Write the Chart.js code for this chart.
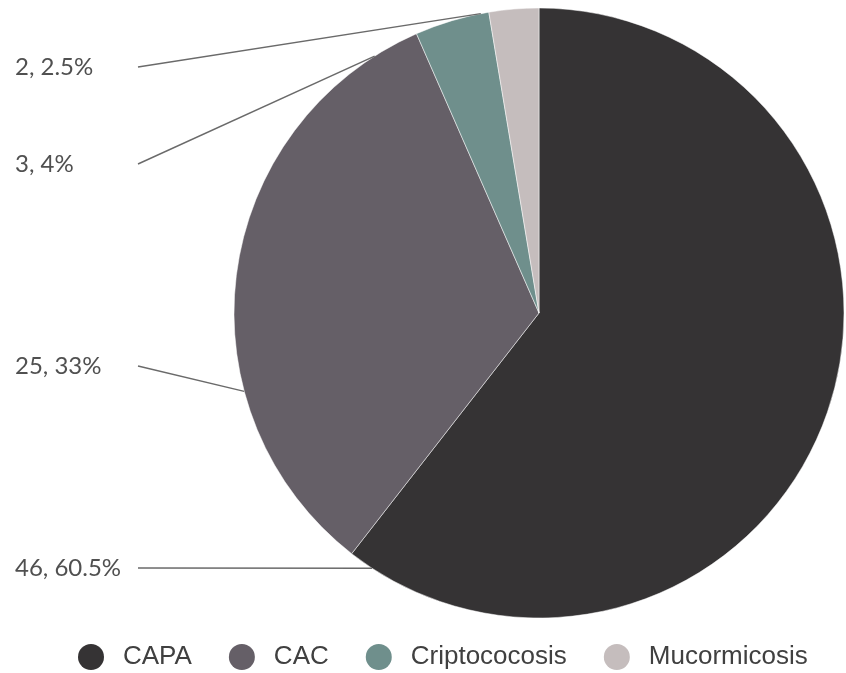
<!DOCTYPE html>
<html>
<head>
<meta charset="utf-8">
<script src="https://cdn.jsdelivr.net/npm/chart.js@4.4.1/dist/chart.umd.min.js"></script>
<style>
  html, body { margin: 0; padding: 0; background: #fff; }
  #wrap { width: 846px; height: 673px; }
</style>
</head>
<body>
<div id="wrap"><canvas id="grafica" width="846" height="673"></canvas></div>
<script>
// Datos
var categorias = ['CAPA', 'CAC', 'Criptococosis', 'Mucormicosis'];
var casos = [46, 25, 3, 2];
var porcentajes = ['60.5%', '33%', '4%', '2.5%'];
var colores = ['#353334', '#655f67', '#6f8f8c', '#c5bdbd'];

// Etiquetas a la izquierda con su linea guia
var etiquetasGuia = {
    id: 'etiquetasGuia',
    afterDatasetsDraw: function(chart, args, opts) {
        var ctx = chart.ctx;
        var meta = chart.getDatasetMeta(0);
        ctx.save();
        ctx.font = opts.font;
        ctx.fillStyle = opts.color;
        ctx.strokeStyle = opts.lineColor;
        ctx.lineWidth = opts.lineWidth;
        ctx.textBaseline = 'middle';
        ctx.textAlign = 'left';
        meta.data.forEach(function(arc, i) {
            var y = opts.rows[i];
            var a = (opts.angles[i] - 90) * Math.PI / 180;
            var ex = arc.x + arc.outerRadius * Math.cos(a);
            var ey = arc.y + arc.outerRadius * Math.sin(a);
            ctx.fillText(casos[i] + ', ' + porcentajes[i], opts.textX, y);
            ctx.beginPath();
            ctx.moveTo(opts.lineX, y);
            ctx.lineTo(ex, ey);
            ctx.stroke();
        });
        ctx.restore();
    }
};

// Leyenda abajo, puntos redondos (la del plugin no deja mover la fila)
var leyendaAbajo = {
    id: 'leyendaAbajo',
    afterDraw: function(chart, args, opts) {
        var ctx = chart.ctx;
        var x = opts.startX;
        var r = opts.dot / 2;
        ctx.save();
        ctx.font = opts.font;
        ctx.textBaseline = 'middle';
        ctx.textAlign = 'left';
        categorias.forEach(function(cat, i) {
            ctx.fillStyle = colores[i];
            ctx.beginPath();
            ctx.arc(x + r, opts.y, r, 0, Math.PI * 2);
            ctx.fill();
            x += opts.dot + opts.textGap;
            ctx.fillStyle = opts.color;
            ctx.fillText(cat, x, opts.y);
            x += ctx.measureText(cat).width + opts.itemGap;
        });
        ctx.restore();
    }
};

var ctx = document.getElementById('grafica').getContext('2d');
var grafica = new Chart(ctx, {
    type: 'pie',
    data: {
        labels: categorias,
        datasets: [{
            data: casos,
            backgroundColor: colores,
            borderColor: '#ffffff',
            borderWidth: 0.5,
            clip: false
        }]
    },
    options: {
        responsive: false,
        animation: false,
        radius: 305,
        layout: {
            padding: { top: 0, bottom: 47, left: 232, right: 0 }
        },
        plugins: {
            tooltip: { enabled: false },
            legend: { display: false },
            etiquetasGuia: {
                font: '24px Lato, "Open Sans", sans-serif',
                color: '#505050',
                lineColor: '#6a6a6a',
                lineWidth: 1.4,
                textX: 15,
                lineX: 138,
                rows: [568, 366, 164, 67],
                angles: [213.2, 255.1, 327.4, 349.0]
            },
            leyendaAbajo: {
                font: '26px "Liberation Sans", Arial, sans-serif',
                color: '#404040',
                startX: 78,
                y: 657,
                dot: 26,
                textGap: 19,
                itemGap: 37
            }
        }
    },
    plugins: [etiquetasGuia, leyendaAbajo]
});
</script>
</body>
</html>
